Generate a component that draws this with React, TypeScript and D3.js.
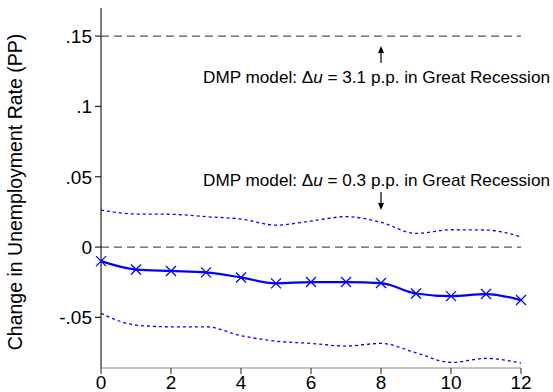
import React, { useEffect, useRef } from 'react';
import * as d3 from 'd3';

const quarters = [0, 1, 2, 3, 4, 5, 6, 7, 8, 9, 10, 11, 12];
const estimate = [-0.010, -0.016, -0.017, -0.018, -0.0216, -0.0258, -0.0249, -0.0249, -0.0256, -0.033, -0.0349, -0.0334, -0.0377];
const upperCI = [0.0263, 0.0235, 0.0233, 0.0216, 0.0199, 0.0156, 0.0185, 0.0216, 0.0176, 0.0097, 0.0123, 0.0121, 0.0073];
const lowerCI = [-0.0472, -0.0555, -0.0567, -0.0567, -0.063, -0.0669, -0.0685, -0.0704, -0.0685, -0.0752, -0.082, -0.0792, -0.0825];
const xTicks = [0, 2, 4, 6, 8, 10, 12];
const yTicks = [-0.05, 0, 0.05, 0.1, 0.15];
const yTickLabels = ['-.05', '0', '.05', '.1', '.15'];
const refLines = [0, 0.15];

const W = 553;
const H = 392;
const font = 'Liberation Sans, Arial, sans-serif';

const Chart: React.FC = () => {
    const svgRef = useRef<SVGSVGElement | null>(null);

    useEffect(() => {
        const svg = d3.select(svgRef.current);
        svg.selectAll('*').remove();

        const x = d3.scaleLinear().domain([0, 12]).range([101, 521]);
        const y = d3.scaleLinear().domain([-0.086, 0.17]).range([368, 8]);

        // reference lines
        refLines.forEach(v => {
            svg.append('line')
                .attr('x1', x(0)).attr('x2', x(12))
                .attr('y1', y(v)).attr('y2', y(v))
                .attr('stroke', '#555').attr('stroke-width', 1.2)
                .attr('stroke-dasharray', '8,5');
        });

        // confidence bands
        const band = d3.line<number>()
            .x((_, i) => x(quarters[i]))
            .y(d => y(d))
            .curve(d3.curveMonotoneX);
        [upperCI, lowerCI].forEach(arr => {
            svg.append('path')
                .attr('d', band(arr))
                .attr('fill', 'none')
                .attr('stroke', '#0000ff')
                .attr('stroke-width', 1.3)
                .attr('stroke-dasharray', '3,3');
        });

        // point estimate
        svg.append('path')
            .attr('d', band(estimate))
            .attr('fill', 'none')
            .attr('stroke', '#0000ff')
            .attr('stroke-width', 2.2);

        const s = 5;
        estimate.forEach((v, i) => {
            const cx = x(quarters[i]);
            const cy = y(v);
            svg.append('path')
                .attr('d', `M${cx - s},${cy - s}L${cx + s},${cy + s}M${cx - s},${cy + s}L${cx + s},${cy - s}`)
                .attr('stroke', '#0000ff')
                .attr('stroke-width', 1.3);
        });

        // axes
        svg.append('line')
            .attr('x1', x(0)).attr('x2', x(0))
            .attr('y1', 8).attr('y2', 368)
            .attr('stroke', '#222').attr('stroke-width', 1.2);
        svg.append('line')
            .attr('x1', x(0)).attr('x2', x(12))
            .attr('y1', 368).attr('y2', 368)
            .attr('stroke', '#888').attr('stroke-width', 1.2);

        xTicks.forEach(t => {
            svg.append('line')
                .attr('x1', x(t)).attr('x2', x(t))
                .attr('y1', 368).attr('y2', 374)
                .attr('stroke', '#444').attr('stroke-width', 1.2);
            svg.append('text')
                .attr('x', x(t)).attr('y', 389)
                .attr('text-anchor', 'middle')
                .attr('font-family', font).attr('font-size', 19)
                .text(t);
        });

        yTicks.forEach((t, i) => {
            svg.append('line')
                .attr('x1', x(0) - 6).attr('x2', x(0))
                .attr('y1', y(t)).attr('y2', y(t))
                .attr('stroke', '#222').attr('stroke-width', 1.2);
            svg.append('text')
                .attr('x', x(0) - 9).attr('y', y(t) + 7)
                .attr('text-anchor', 'end')
                .attr('font-family', font).attr('font-size', 19)
                .text(yTickLabels[i]);
        });

        svg.append('text')
            .attr('transform', `translate(22,${192}) rotate(-90)`)
            .attr('text-anchor', 'middle')
            .attr('font-family', font).attr('font-size', 19.5)
            .text('Change in Unemployment Rate (PP)');

        // annotations
        const notes = [
            { val: '3.1', ty: 83, a1: 63, a2: 46 },
            { val: '0.3', ty: 186, a1: 192, a2: 210 },
        ];
        notes.forEach(n => {
            const t = svg.append('text')
                .attr('x', 203).attr('y', n.ty)
                .attr('font-family', font).attr('font-size', 17)
                .attr('textLength', 347).attr('lengthAdjust', 'spacingAndGlyphs');
            t.append('tspan').text('DMP model: \u0394');
            t.append('tspan').attr('font-style', 'italic').text('u');
            t.append('tspan').text(` = ${n.val} p.p. in Great Recession`);

            const ax = x(8);
            svg.append('line')
                .attr('x1', ax).attr('x2', ax)
                .attr('y1', n.a1).attr('y2', n.a2 + (n.a2 < n.a1 ? 5 : -5))
                .attr('stroke', '#000').attr('stroke-width', 1.2);
            const dir = n.a2 < n.a1 ? 1 : -1;
            svg.append('path')
                .attr('d', `M${ax},${n.a2}L${ax - 3},${n.a2 + 7 * dir}L${ax + 3},${n.a2 + 7 * dir}Z`)
                .attr('fill', '#000');
        });
    }, []);

    return <svg ref={svgRef} width={W} height={H} style={{ display: 'block', position: 'absolute', left: 0, top: 0 }} />;
};

export default function App() {
    return <Chart />;
}
